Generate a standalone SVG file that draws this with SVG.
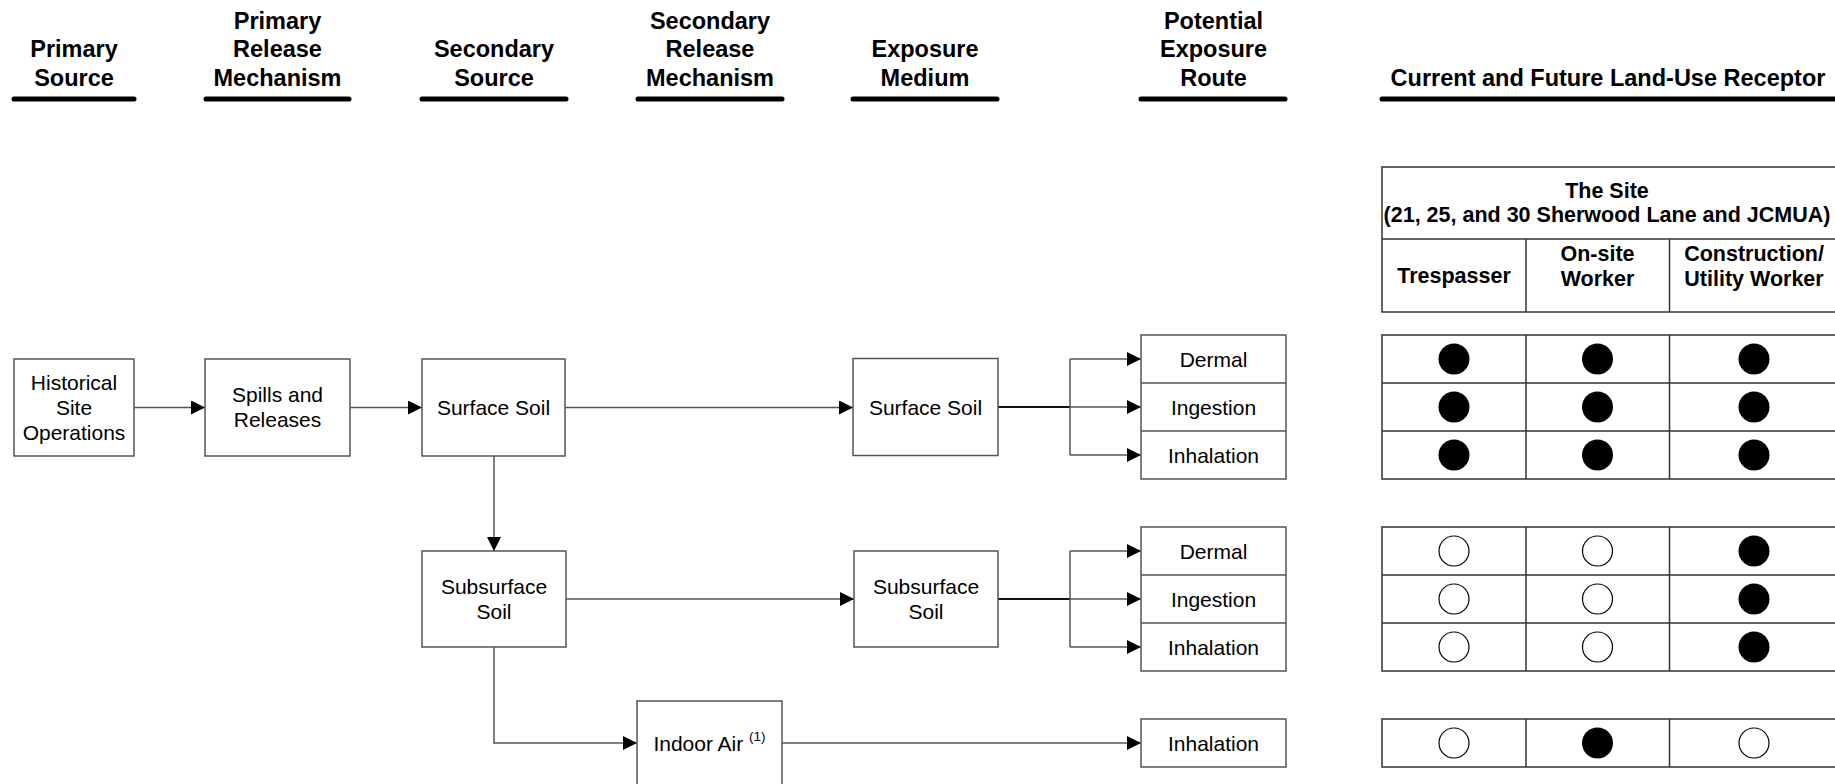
<svg xmlns="http://www.w3.org/2000/svg" width="1835" height="784" viewBox="0 0 1835 784">
<defs>
<style>
text{font-family:"Liberation Sans",Arial,sans-serif;fill:#000}
.h{font-size:23.5px;font-weight:bold;text-anchor:middle}
.th{font-size:21.5px;font-weight:bold;text-anchor:middle}
.t{font-size:21px;text-anchor:middle}
.sup{font-size:13.5px}
.ul{stroke:#000;stroke-width:5;stroke-linecap:round;fill:none}
.box{fill:#fff;stroke:#555;stroke-width:1.5}
.grid{fill:none;stroke:#333;stroke-width:1.5}
.c{fill:none;stroke:#555;stroke-width:1.5}
.cd{fill:none;stroke:#111;stroke-width:2}
.a{marker-end:url(#arr)}
.f{fill:#000}
.o{fill:#fff;stroke:#000;stroke-width:1.2}
</style>
<marker id="arr" markerUnits="userSpaceOnUse" markerWidth="14" markerHeight="14" refX="14" refY="7" orient="auto">
<path d="M0,0 L14,7 L0,14 Z" fill="#000"/>
</marker>
</defs>
<rect width="1835" height="784" fill="#fff"/>

<g id="headers">
<text class="h" x="74" y="57">Primary</text>
<text class="h" x="74" y="85.5">Source</text>
<line class="ul" x1="14" y1="99" x2="134" y2="99"/>
<text class="h" x="277.5" y="28.5">Primary</text>
<text class="h" x="277.5" y="57">Release</text>
<text class="h" x="277.5" y="85.5">Mechanism</text>
<line class="ul" x1="206" y1="99" x2="349" y2="99"/>
<text class="h" x="494" y="57">Secondary</text>
<text class="h" x="494" y="85.5">Source</text>
<line class="ul" x1="422" y1="99" x2="566" y2="99"/>
<text class="h" x="710" y="28.5">Secondary</text>
<text class="h" x="710" y="57">Release</text>
<text class="h" x="710" y="85.5">Mechanism</text>
<line class="ul" x1="638" y1="99" x2="782" y2="99"/>
<text class="h" x="925" y="57">Exposure</text>
<text class="h" x="925" y="85.5">Medium</text>
<line class="ul" x1="853" y1="99" x2="997" y2="99"/>
<text class="h" x="1213.5" y="28.5">Potential</text>
<text class="h" x="1213.5" y="57">Exposure</text>
<text class="h" x="1213.5" y="85.5">Route</text>
<line class="ul" x1="1141" y1="99" x2="1285" y2="99"/>
<text class="h" x="1608" y="85.5">Current and Future Land-Use Receptor</text>
<line class="ul" x1="1382" y1="99" x2="1845" y2="99"/>
</g>

<g id="connectors">
<line class="c a" x1="134" y1="407.5" x2="205" y2="407.5"/>
<line class="c a" x1="350" y1="407.5" x2="422" y2="407.5"/>
<line class="c a" x1="565" y1="407.5" x2="853" y2="407.5"/>
<line class="c a" x1="494" y1="456" x2="494" y2="551"/>
<line class="c a" x1="566" y1="599" x2="854" y2="599"/>
<path class="c a" d="M494,647 V743 H637"/>
<line class="c a" x1="782" y1="743" x2="1141" y2="743"/>
<line class="cd" x1="998" y1="407" x2="1070" y2="407"/>
<line class="c" x1="1070" y1="359" x2="1070" y2="455"/>
<line class="c a" x1="1070" y1="359" x2="1141" y2="359"/>
<line class="c a" x1="1070" y1="407" x2="1141" y2="407"/>
<line class="c a" x1="1070" y1="455" x2="1141" y2="455"/>
<line class="cd" x1="998" y1="599" x2="1070" y2="599"/>
<line class="c" x1="1070" y1="551" x2="1070" y2="647"/>
<line class="c a" x1="1070" y1="551" x2="1141" y2="551"/>
<line class="c a" x1="1070" y1="599" x2="1141" y2="599"/>
<line class="c a" x1="1070" y1="647" x2="1141" y2="647"/>
</g>

<g id="historical">
<rect class="box" x="14" y="359" width="120" height="97"/>
<text class="t" x="74" y="389.5">Historical</text>
<text class="t" x="74" y="414.5">Site</text>
<text class="t" x="74" y="439.5">Operations</text>
</g>
<g id="spills">
<rect class="box" x="205" y="359" width="145" height="97"/>
<text class="t" x="277.5" y="402">Spills and</text>
<text class="t" x="277.5" y="427">Releases</text>
</g>
<g id="surface-soil-src">
<rect class="box" x="422" y="359" width="143" height="97"/>
<text class="t" x="493.5" y="415">Surface Soil</text>
</g>
<g id="subsurface-soil-src">
<rect class="box" x="422" y="551" width="144" height="96"/>
<text class="t" x="494" y="593.5">Subsurface</text>
<text class="t" x="494" y="618.5">Soil</text>
</g>
<g id="indoor-air">
<rect class="box" x="637" y="701" width="145" height="97"/>
<text class="t" x="709.5" y="750.5">Indoor Air <tspan class="sup" dy="-10">(1)</tspan></text>
</g>
<g id="surface-soil-medium">
<rect class="box" x="853" y="358.5" width="145" height="97"/>
<text class="t" x="925.5" y="414.5">Surface Soil</text>
</g>
<g id="subsurface-soil-medium">
<rect class="box" x="854" y="551" width="144" height="96"/>
<text class="t" x="926" y="593.5">Subsurface</text>
<text class="t" x="926" y="618.5">Soil</text>
</g>

<g id="routes-surface">
<rect class="box" x="1141" y="335" width="145" height="144"/>
<line class="box" x1="1141" y1="383" x2="1286" y2="383"/>
<line class="box" x1="1141" y1="431" x2="1286" y2="431"/>
<text class="t" x="1213.5" y="366.5">Dermal</text>
<text class="t" x="1213.5" y="414.5">Ingestion</text>
<text class="t" x="1213.5" y="462.5">Inhalation</text>
</g>
<g id="routes-subsurface">
<rect class="box" x="1141" y="527" width="145" height="144"/>
<line class="box" x1="1141" y1="575" x2="1286" y2="575"/>
<line class="box" x1="1141" y1="623" x2="1286" y2="623"/>
<text class="t" x="1213.5" y="558.5">Dermal</text>
<text class="t" x="1213.5" y="606.5">Ingestion</text>
<text class="t" x="1213.5" y="654.5">Inhalation</text>
</g>
<g id="routes-indoor">
<rect class="box" x="1141" y="719" width="145" height="48"/>
<text class="t" x="1213.5" y="750.5">Inhalation</text>
</g>

<g id="receptor-header">
<rect class="grid" x="1382" y="167" width="460" height="145"/>
<line class="grid" x1="1382" y1="239" x2="1842" y2="239"/>
<line class="grid" x1="1526" y1="239" x2="1526" y2="312"/>
<line class="grid" x1="1669.5" y1="239" x2="1669.5" y2="312"/>
<text class="th" x="1607" y="198">The Site</text>
<text class="th" x="1607" y="222">(21, 25, and 30 Sherwood Lane and JCMUA)</text>
<text class="th" x="1454" y="283">Trespasser</text>
<text class="th" x="1597.5" y="261">On-site</text>
<text class="th" x="1597.5" y="286">Worker</text>
<text class="th" x="1754" y="261">Construction/</text>
<text class="th" x="1754" y="286">Utility Worker</text>
</g>

<g id="receptor-surface">
<rect class="grid" x="1382" y="335" width="460" height="144"/>
<line class="grid" x1="1382" y1="383" x2="1842" y2="383"/>
<line class="grid" x1="1382" y1="431" x2="1842" y2="431"/>
<line class="grid" x1="1526" y1="335" x2="1526" y2="479"/>
<line class="grid" x1="1669.5" y1="335" x2="1669.5" y2="479"/>
<circle class="f" cx="1454" cy="359" r="15.5"/>
<circle class="f" cx="1597.5" cy="359" r="15.5"/>
<circle class="f" cx="1754" cy="359" r="15.5"/>
<circle class="f" cx="1454" cy="407" r="15.5"/>
<circle class="f" cx="1597.5" cy="407" r="15.5"/>
<circle class="f" cx="1754" cy="407" r="15.5"/>
<circle class="f" cx="1454" cy="455" r="15.5"/>
<circle class="f" cx="1597.5" cy="455" r="15.5"/>
<circle class="f" cx="1754" cy="455" r="15.5"/>
</g>
<g id="receptor-subsurface">
<rect class="grid" x="1382" y="527" width="460" height="144"/>
<line class="grid" x1="1382" y1="575" x2="1842" y2="575"/>
<line class="grid" x1="1382" y1="623" x2="1842" y2="623"/>
<line class="grid" x1="1526" y1="527" x2="1526" y2="671"/>
<line class="grid" x1="1669.5" y1="527" x2="1669.5" y2="671"/>
<circle class="o" cx="1454" cy="551" r="15"/>
<circle class="o" cx="1597.5" cy="551" r="15"/>
<circle class="f" cx="1754" cy="551" r="15.5"/>
<circle class="o" cx="1454" cy="599" r="15"/>
<circle class="o" cx="1597.5" cy="599" r="15"/>
<circle class="f" cx="1754" cy="599" r="15.5"/>
<circle class="o" cx="1454" cy="647" r="15"/>
<circle class="o" cx="1597.5" cy="647" r="15"/>
<circle class="f" cx="1754" cy="647" r="15.5"/>
</g>
<g id="receptor-indoor">
<rect class="grid" x="1382" y="719" width="460" height="48"/>
<line class="grid" x1="1526" y1="719" x2="1526" y2="767"/>
<line class="grid" x1="1669.5" y1="719" x2="1669.5" y2="767"/>
<circle class="o" cx="1454" cy="743" r="15"/>
<circle class="f" cx="1597.5" cy="743" r="15.5"/>
<circle class="o" cx="1754" cy="743" r="15"/>
</g>
</svg>
